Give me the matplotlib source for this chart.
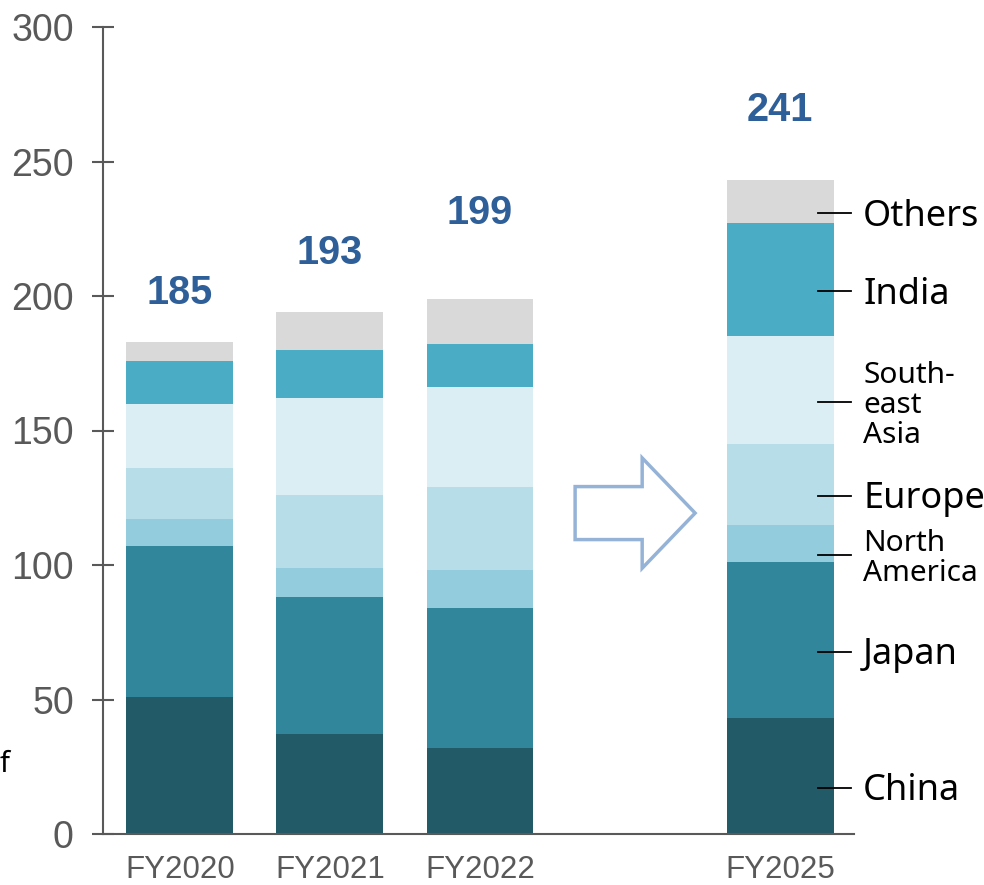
import matplotlib.pyplot as plt
from matplotlib.patches import FancyArrow

# data
years = ['FY2020', 'FY2021', 'FY2022', 'FY2025']
x_pos = [0, 1, 2, 4]
totals = [185, 193, 199, 241]

regions = ['China', 'Japan', 'North\nAmerica', 'Europe', 'South-\neast\nAsia', 'India', 'Others']
china = [51, 37, 32, 43]
japan = [56, 51, 52, 58]
north_america = [10, 11, 14, 14]
europe = [19, 27, 31, 30]
se_asia = [24, 36, 37, 40]
india = [16, 18, 16, 42]
others = [7, 14, 17, 16]

colors = ['#235a68', '#31869b', '#93cddd', '#b7dde8', '#daeef3', '#4bacc6', '#d9d9d9']
label_sizes = [26, 26, 21.5, 26, 21.5, 26, 26]
label_pad = [18, 22, 32, 26]  # how far above each bar the total sits

fig = plt.figure(figsize=(9.84, 8.85), dpi=100)
ax = fig.add_axes([103 / 984, 1 - 834 / 885, 751 / 984, 807 / 885])

series = [china, japan, north_america, europe, se_asia, india, others]
bottom = [0] * len(years)
for vals, col in zip(series, colors):
    ax.bar(x_pos, vals, width=0.713, bottom=bottom, color=col, edgecolor='none')
    bottom = [b + v for b, v in zip(bottom, vals)]

# totals above bars
for xp, tot, top, pad in zip(x_pos, totals, bottom, label_pad):
    ax.text(xp, top + pad, str(tot), ha='center', va='center', fontsize=28.5,
            fontweight='bold', color='#2f5f98', family='Liberation Sans')

# region labels for FY2025 with leader lines
b = 0
last = x_pos[-1]
for name, vals, fs in zip(regions, series, label_sizes):
    mid = b + vals[-1] / 2 - 4.3
    b += vals[-1]
    ax.plot([last + 0.253, last + 0.473], [mid, mid], color='black', lw=1.3,
            clip_on=False)
    ax.annotate(name, (last + 0.553, mid), xytext=(0, -2.5), textcoords='offset points',
                ha='left', va='center', fontsize=fs, family='Noto Sans',
                color='black', linespacing=1.05, annotation_clip=False)

# hollow arrow between actuals and forecast
arrow = FancyArrow(2.634, 119.3, 0.80, 0, width=19.7, head_width=41,
                   head_length=0.353, length_includes_head=True, fill=False,
                   ec='#95b3d7', lw=2.5)
ax.add_patch(arrow)

ax.set_ylim(0, 300)
ax.set_xlim(-0.513, 4.493)
ax.set_yticks(range(0, 301, 50))
ax.set_xticks(x_pos)
ax.set_xticklabels(years)

for s in ['top', 'right']:
    ax.spines[s].set_visible(False)
for s in ['left', 'bottom']:
    ax.spines[s].set_color('#595959')
    ax.spines[s].set_linewidth(1.5)

ax.tick_params(axis='y', direction='inout', length=16, width=1.5, color='#595959',
               labelsize=27, labelcolor='#595959', pad=13)
ax.tick_params(axis='x', length=0, labelsize=22.5, labelcolor='#595959', pad=15)
for lbl in ax.get_xticklabels() + ax.get_yticklabels():
    lbl.set_family('Liberation Sans')

# cropped axis caption at the left edge
fig.text(0, 1 - 765 / 885, 'f', ha='left', va='center', fontsize=21,
         family='Noto Sans', color='black')

fig.savefig('out.png', dpi=100)
